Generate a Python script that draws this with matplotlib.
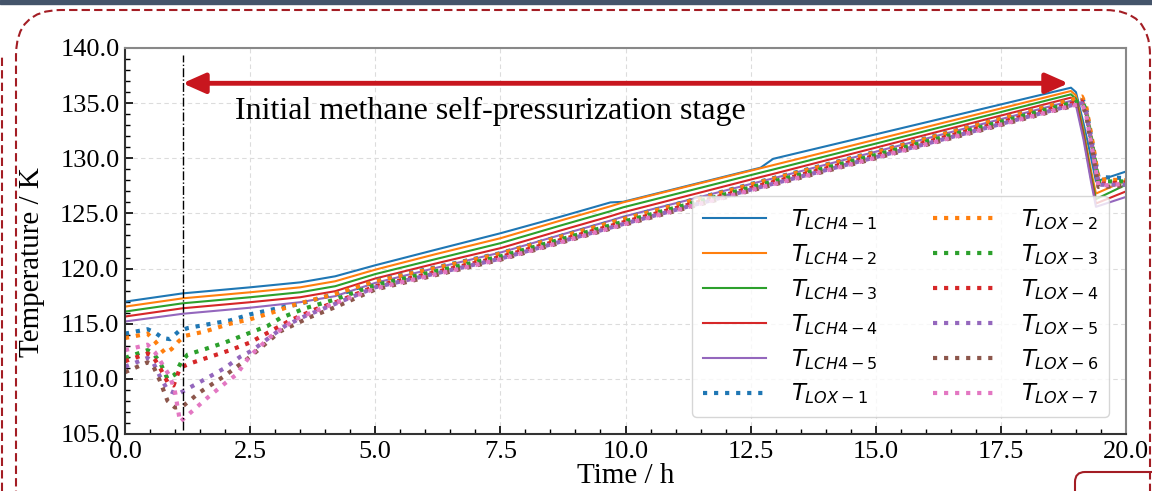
import numpy as np
import matplotlib
matplotlib.use('Agg')
import matplotlib.pyplot as plt
from matplotlib.patches import FancyBboxPatch, Rectangle
from matplotlib.lines import Line2D
from matplotlib.transforms import IdentityTransform
from matplotlib.ticker import MultipleLocator, FormatStrFormatter

plt.rcParams['font.family'] = ['Liberation Serif', 'DejaVu Serif']
plt.rcParams['mathtext.fontset'] = 'dejavusans'

# LCH4 tank temperatures (h, K)
t_lch4 = [0, 1.15, 2.5, 3.5, 4.2, 5.0, 6.2, 7.5, 8.7, 9.7, 9.95, 12.7, 12.95, 18.9, 19.0, 19.15, 19.3, 19.4, 20.0]
lch4_1 = [117.0, 117.75, 118.3, 118.75, 119.3, 120.3, 121.7, 123.2, 124.7, 126.0, 126.05, 129.15, 129.95, 136.4, 136.0, 133.2, 130.1, 127.9, 128.8]
lch4_2 = [116.55, 117.3, 117.85, 118.3, 118.85, 119.9, 121.3, 122.75, 124.35, 125.65, 126.0, 129.1, 129.38, 136.1, 135.7, 132.6, 128.9, 126.8, 128.0]
lch4_3 = [116.1, 116.85, 117.4, 117.85, 118.4, 119.5, 120.85, 122.3, 123.9, 125.2, 125.55, 128.7, 128.98, 135.8, 135.4, 132.3, 128.5, 126.3, 127.6]
lch4_4 = [115.65, 116.4, 116.95, 117.4, 117.95, 119.1, 120.45, 121.85, 123.45, 124.75, 125.1, 128.3, 128.58, 135.5, 135.1, 132.0, 128.2, 125.9, 127.0]
lch4_5 = [115.2, 115.9, 116.45, 116.95, 117.5, 118.7, 120.05, 121.45, 123.05, 124.35, 124.7, 127.9, 128.18, 135.2, 134.8, 131.7, 127.9, 125.6, 126.5]

# LOX tank temperatures (h, K)
t_lox1 = [0, 0.45, 0.6, 0.75, 0.9, 1.07, 1.25, 1.6, 2.1, 2.5, 3.1, 3.4, 3.7, 4.1, 4.45, 5.0, 7.5, 10.0, 12.7, 15.0, 18.9, 19.12, 19.2, 19.35, 19.45, 20.0]
lox1 = [114.1, 114.5, 114.2, 113.7, 113.6, 114.3, 114.6, 114.9, 115.3, 115.85, 116.45, 116.7, 117.05, 117.6, 117.9, 118.9, 121.4, 124.6, 127.9, 130.6, 135.3, 135.5, 134.6, 130.8, 128.3, 128.2]
t_lox2 = [0, 0.45, 0.6, 0.8, 0.93, 1.07, 1.2, 1.6, 2.1, 2.5, 3.0, 3.3, 3.7, 4.2, 5.0, 7.5, 10.0, 12.7, 15.0, 18.9, 19.12, 19.2, 19.35, 19.45, 20.0]
lox2 = [113.7, 114.1, 113.4, 112.3, 112.7, 113.4, 113.9, 114.3, 115.0, 115.4, 116.1, 116.6, 117.1, 117.7, 118.85, 121.35, 124.55, 127.85, 130.55, 135.3, 135.6, 134.8, 131.0, 128.1, 128.0]
t_lox3 = [0, 0.45, 0.55, 0.7, 0.85, 1.0, 1.12, 1.25, 1.6, 2.0, 2.45, 2.85, 3.1, 3.6, 4.2, 5.0, 7.5, 10.0, 12.7, 15.0, 18.9, 19.12, 19.2, 19.35, 19.45, 20.0]
lox3 = [111.9, 112.6, 112.4, 111.5, 110.0, 110.4, 111.5, 112.2, 112.7, 113.3, 114.1, 114.8, 115.5, 116.4, 117.2, 118.5, 121.1, 124.3, 127.6, 130.3, 135.0, 135.2, 134.4, 130.6, 127.9, 127.9]
t_lox4 = [0, 0.45, 0.55, 0.7, 0.85, 0.97, 1.1, 1.3, 1.7, 2.1, 2.5, 2.9, 3.3, 3.8, 4.3, 5.0, 7.5, 10.0, 12.7, 15.0, 18.9, 19.12, 19.2, 19.35, 19.45, 20.0]
lox4 = [111.6, 112.3, 112.1, 111.0, 109.7, 109.4, 111.0, 111.4, 112.0, 112.6, 113.3, 114.3, 115.3, 116.3, 117.1, 118.4, 121.05, 124.25, 127.55, 130.25, 134.95, 135.15, 134.3, 130.4, 127.7, 127.8]
t_lox5 = [0, 0.45, 0.55, 0.7, 0.85, 1.05, 1.25, 1.65, 2.0, 2.3, 2.55, 2.9, 3.2, 3.6, 4.2, 5.0, 7.5, 10.0, 12.7, 15.0, 18.9, 19.12, 19.2, 19.35, 19.45, 20.0]
lox5 = [111.1, 111.9, 111.6, 110.2, 109.0, 108.6, 109.1, 110.1, 111.0, 112.0, 112.6, 113.8, 114.8, 115.7, 116.8, 118.3, 120.9, 124.1, 127.4, 130.1, 134.8, 135.0, 134.2, 130.3, 127.6, 127.6]
t_lox6 = [0, 0.45, 0.55, 0.7, 0.85, 1.0, 1.15, 1.5, 2.0, 2.5, 3.1, 3.7, 4.2, 5.0, 7.5, 10.0, 12.7, 15.0, 18.9, 19.12, 19.2, 19.35, 19.45, 20.0]
lox6 = [110.6, 111.5, 111.3, 109.8, 108.0, 107.4, 107.5, 108.8, 110.3, 112.0, 114.3, 115.6, 116.5, 118.1, 120.8, 124.0, 127.3, 130.0, 134.7, 134.9, 134.0, 130.1, 127.4, 127.5]
t_lox7 = [0, 0.45, 0.6, 0.75, 0.9, 1.0, 1.1, 1.3, 1.65, 2.0, 2.23, 2.5, 2.9, 3.4, 4.1, 5.0, 7.5, 10.0, 12.7, 15.0, 18.9, 19.12, 19.2, 19.35, 19.45, 20.0]
lox7 = [112.6, 113.1, 112.4, 111.3, 110.2, 108.8, 106.1, 106.9, 108.3, 109.6, 110.4, 112.1, 113.8, 115.4, 116.7, 118.2, 120.85, 124.05, 127.35, 130.05, 134.75, 134.95, 134.1, 130.2, 127.5, 127.7]

lch4_all = [lch4_1, lch4_2, lch4_3, lch4_4, lch4_5]
lox_t_all = [t_lox1, t_lox2, t_lox3, t_lox4, t_lox5, t_lox6, t_lox7]
lox_all = [lox1, lox2, lox3, lox4, lox5, lox6, lox7]

t_start = 1.15
t_end = 18.85
stage_text = 'Initial methane self-pressurization stage'

colors = plt.cm.tab10.colors

fig = plt.figure(figsize=(11.52, 4.91), dpi=100)
ax = fig.add_axes([125 / 1152, 57 / 491, 1001 / 1152, 386 / 491])

for k in range(5):
    ax.plot(t_lch4, lch4_all[k], color=colors[k], lw=1.5,
            label=r'$T_{LCH4-%d}$' % (k + 1))
for k in range(7):
    ax.plot(lox_t_all[k], lox_all[k], ':', color=colors[k], lw=3,
            label=r'$T_{LOX-%d}$' % (k + 1))

# start line and stage arrow
ax.plot([t_start, t_start], [105.4, 139.4], color='k', ls='-.', lw=1)
ax.annotate('', xy=(t_start, 136.8), xytext=(t_end, 136.8),
            arrowprops=dict(arrowstyle='<|-|>,head_length=1.35,head_width=0.6',
                            color='#c8161e', lw=3.5, shrinkA=0, shrinkB=0))
ax.text(2.2, 134.2, stage_text, fontsize=23, va='center', ha='left')

ax.set_xlim(0, 20)
ax.set_ylim(105, 140)
ax.xaxis.set_major_locator(MultipleLocator(2.5))
ax.xaxis.set_minor_locator(MultipleLocator(0.5))
ax.yaxis.set_major_locator(MultipleLocator(5))
ax.yaxis.set_minor_locator(MultipleLocator(1))
ax.xaxis.set_major_formatter(FormatStrFormatter('%.1f'))
ax.yaxis.set_major_formatter(FormatStrFormatter('%.1f'))
ax.tick_params(which='both', direction='in', labelsize=19, pad=4)
ax.tick_params(axis='x', pad=5)
ax.tick_params(which='major', length=6, width=1.2)
ax.tick_params(which='minor', length=3.5, width=1)
ax.grid(True, ls=(0, (4, 3)), color='#dcdcdc', lw=0.8)
for side in ['left', 'bottom']:
    ax.spines[side].set_color('#333333')
    ax.spines[side].set_linewidth(1.5)
for side in ['top', 'right']:
    ax.spines[side].set_color('#888888')
    ax.spines[side].set_linewidth(1.5)

ax.set_xlabel('Time / h', fontsize=21, labelpad=0)
fig.text(32 / 1152, 1 - 262 / 491, 'Temperature / K', fontsize=21,
         rotation=90, ha='center', va='center')

ax.legend(loc='lower right', ncol=2, fontsize=16.5, handlelength=2.75,
          handletextpad=1.1, columnspacing=2.4, labelspacing=0.44,
          borderpad=0.45, borderaxespad=0.75)

# slide decorations around the chart
px = IdentityTransform()
fig.add_artist(Rectangle((0, 487), 1152, 4, color='#44546a', transform=px))
fig.add_artist(FancyBboxPatch((16, -120), 1134, 601,
                              boxstyle='round,pad=0,rounding_size=45',
                              fill=False, ec='#a31d24', lw=1.5, ls=(0, (4, 2)),
                              transform=px))
fig.add_artist(Line2D([1.5, 1.5], [0, 436], color='#a31d24', lw=1.5,
                      ls=(0, (4, 2)), transform=px))
fig.add_artist(FancyBboxPatch((1075, -60), 120, 79,
                              boxstyle='round,pad=0,rounding_size=10',
                              fill=False, ec='#a31d24', lw=1.5, transform=px))

fig.savefig('out.png', dpi=100)
